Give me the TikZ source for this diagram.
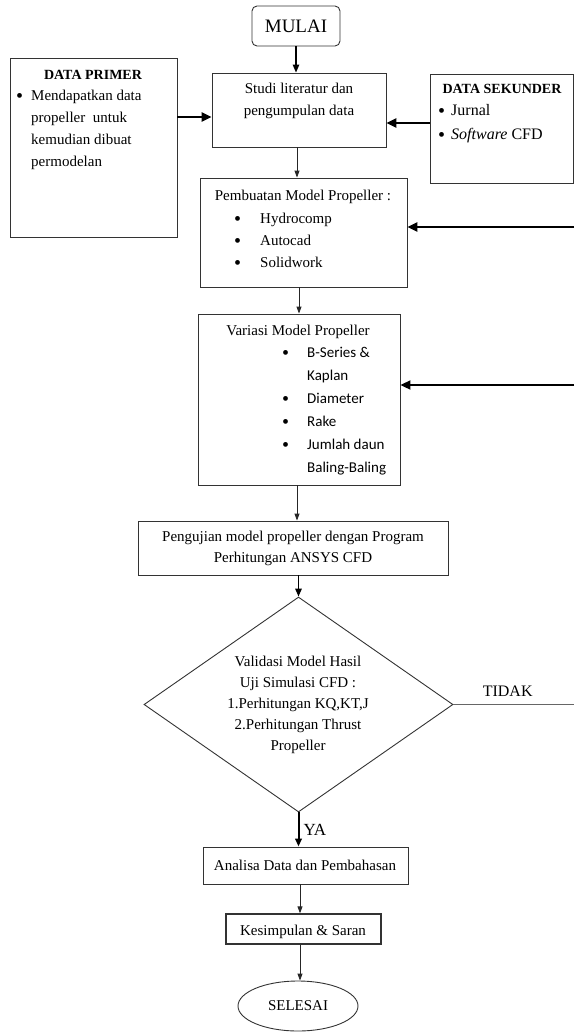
\documentclass[tikz,border=0pt]{standalone}
\usepackage{fontspec}
\setmainfont{Liberation Serif}
\newfontfamily\carlitofont{Carlito}
\usetikzlibrary{arrows.meta,shapes.geometric}
\newcommand{\bigbul}{\raisebox{-1.8pt}{\fontsize{20}{20}\selectfont\textbullet}}
\begin{document}
\begin{tikzpicture}[x=1pt,y=-1pt,
  box/.style={draw=black!80, line width=0.9pt, rectangle, inner sep=0pt},
  txt/.style={inner sep=0pt, font=\fontsize{15}{21.5}\selectfont, align=center},
  thinarrow/.style={draw=black!85, line width=0.9pt, -{Triangle[length=7pt,width=5pt]}},
  midarrow/.style={draw=black, line width=1.6pt, -{Triangle[length=8pt,width=6.5pt]}},
  thickarrow/.style={draw=black, line width=2.5pt, -{Triangle[length=10pt,width=9pt]}},
]
\useasboundingbox (0,0) rectangle (574,1034);

% MULAI
\node[box, rounded corners=5pt, minimum width=88pt, minimum height=40pt,
      font=\fontsize{19}{22}\selectfont] (mulai) at (296,26) {MULAI};

% Studi literatur
\node[box, minimum width=174pt, minimum height=74pt] (studi) at (299,110) {};
\node[txt] (studit) at (299,101) {Studi literatur dan\\pengumpulan data};

% Data primer
\node[box, minimum width=167pt, minimum height=179pt] (primer) at (93.5,147.5) {};
\node[txt, font=\fontsize{14}{18}\selectfont\bfseries] (primert) at (93,75) {DATA PRIMER};
\node[txt, align=left, anchor=west, font=\fontsize{15}{22}\selectfont] (primerl) at (16,130)
  {\makebox[15pt][l]{\bigbul}Mendapatkan data\\
   \hspace*{15pt}propeller\ \ untuk\\
   \hspace*{15pt}kemudian dibuat\\
   \hspace*{15pt}permodelan};

% Data sekunder
\node[box, minimum width=143pt, minimum height=109pt] (sekunder) at (501.5,128.5) {};
\node[txt, font=\fontsize{14}{18}\selectfont\bfseries] (sekundert) at (502,89) {DATA SEKUNDER};
\node[txt, align=left, anchor=west, font=\fontsize{16}{24}\selectfont] (sekunderl) at (438,124)
  {\makebox[13pt][l]{\bigbul}Jurnal\\
   \makebox[13pt][l]{\bigbul}\textit{Software} CFD};

% Pembuatan model
\node[box, minimum width=207pt, minimum height=109pt] (pembuatan) at (303.5,232.5) {};
\node[txt] (pembuatant) at (303,197) {Pembuatan Model Propeller :};
\node[txt, align=left, anchor=west, font=\fontsize{15}{22}\selectfont] (pembuatanl) at (234,241)
  {\makebox[26pt][l]{\bigbul}Hydrocomp\\
   \makebox[26pt][l]{\bigbul}Autocad\\
   \makebox[26pt][l]{\bigbul}Solidwork};

% Variasi model
\node[box, minimum width=202pt, minimum height=171pt] (variasi) at (299,399.5) {};
\node[txt] (variasit) at (298,332) {Variasi Model Propeller};
\node[txt, align=left, anchor=west, font=\fontsize{15}{23}\selectfont] (variasil) at (282,411.5)
  {\makebox[25pt][l]{\bigbul}{\carlitofont B-Series \&}\\
   \hspace*{25pt}{\carlitofont Kaplan}\\
   \makebox[25pt][l]{\bigbul}{\carlitofont Diameter}\\
   \makebox[25pt][l]{\bigbul}{\carlitofont Rake}\\
   \makebox[25pt][l]{\bigbul}{\carlitofont Jumlah daun}\\
   \hspace*{25pt}{\carlitofont Baling-Baling}};

% Pengujian
\node[box, minimum width=310pt, minimum height=54pt] (pengujian) at (293,548) {};
\node[txt] (pengujiant) at (293,548.5) {Pengujian model propeller dengan Program\\Perhitungan ANSYS CFD};

% Validasi diamond
\node[draw=black!80, line width=0.9pt, diamond, inner sep=0pt, minimum width=309pt,
      minimum height=215pt] (validasi) at (298.5,704.5) {};
\node[txt, font=\fontsize{15}{21}\selectfont] (validasit) at (298,705)
  {Validasi Model Hasil\\Uji Simulasi CFD :\\1.Perhitungan KQ,KT,J\\2.Perhitungan Thrust\\Propeller};

% Analisa
\node[box, minimum width=205pt, minimum height=37pt] (analisa) at (305.5,865.5) {};
\node[txt] (analisat) at (305,865) {Analisa Data dan Pembahasan};

% Kesimpulan
\node[box, line width=1.3pt, minimum width=155pt, minimum height=30pt] (kesimpulan) at (303.5,929) {};
\node[txt] (kesimpulant) at (303,932) {Kesimpulan \& Saran};

% Selesai
\node[draw=black!80, line width=0.9pt, ellipse, inner sep=0pt, minimum width=120pt,
      minimum height=50pt, font=\fontsize{15}{18}\selectfont] (selesai) at (298,1006) {SELESAI};

% free ends on the right
\coordinate (r1) at (574,227);
\coordinate (r2) at (574,385);
\coordinate (tidakend) at (574,704.5);

% connectors
\draw[midarrow, line width=1.3pt] (mulai.south) -- (mulai.south |- studi.north);
\draw[thickarrow] (primer.east |- 0,117) -- (studi.west |- 0,117);
\draw[thickarrow] (sekunder.west |- 0,123) -- (studi.east |- 0,123);
\draw[thinarrow] (studi.south -| 297,0) -- (pembuatan.north -| 297,0);
\draw[thickarrow] (r1) -- (r1 -| pembuatan.east);
\draw[thinarrow] (pembuatan.south -| 299,0) -- (variasi.north -| 299,0);
\draw[thickarrow, line width=2pt] (r2) -- (r2 -| variasi.east);
\draw[thinarrow] (variasi.south -| 297,0) -- (pengujian.north -| 297,0);
\draw[midarrow] (pengujian.south -| validasi.north) -- (validasi.north);
\draw[draw=black!60, line width=1.4pt] (validasi.east) -- (tidakend)
  node[pos=0.45, above=7pt, inner sep=0pt, font=\fontsize{16}{18}\selectfont, text=black] (tidak) {TIDAK};
\draw[midarrow, line width=2pt] (validasi.south) -- (validasi.south |- analisa.north)
  node[pos=0.5, right=4pt, inner sep=0pt, font=\fontsize{17}{18}\selectfont] (ya) {YA};
\draw[thinarrow] (analisa.south -| 300,0) -- (kesimpulan.north -| 300,0);
\draw[thinarrow] (kesimpulan.south -| 300,0) -- (selesai.north -| 300,0);
\end{tikzpicture}
\end{document}
